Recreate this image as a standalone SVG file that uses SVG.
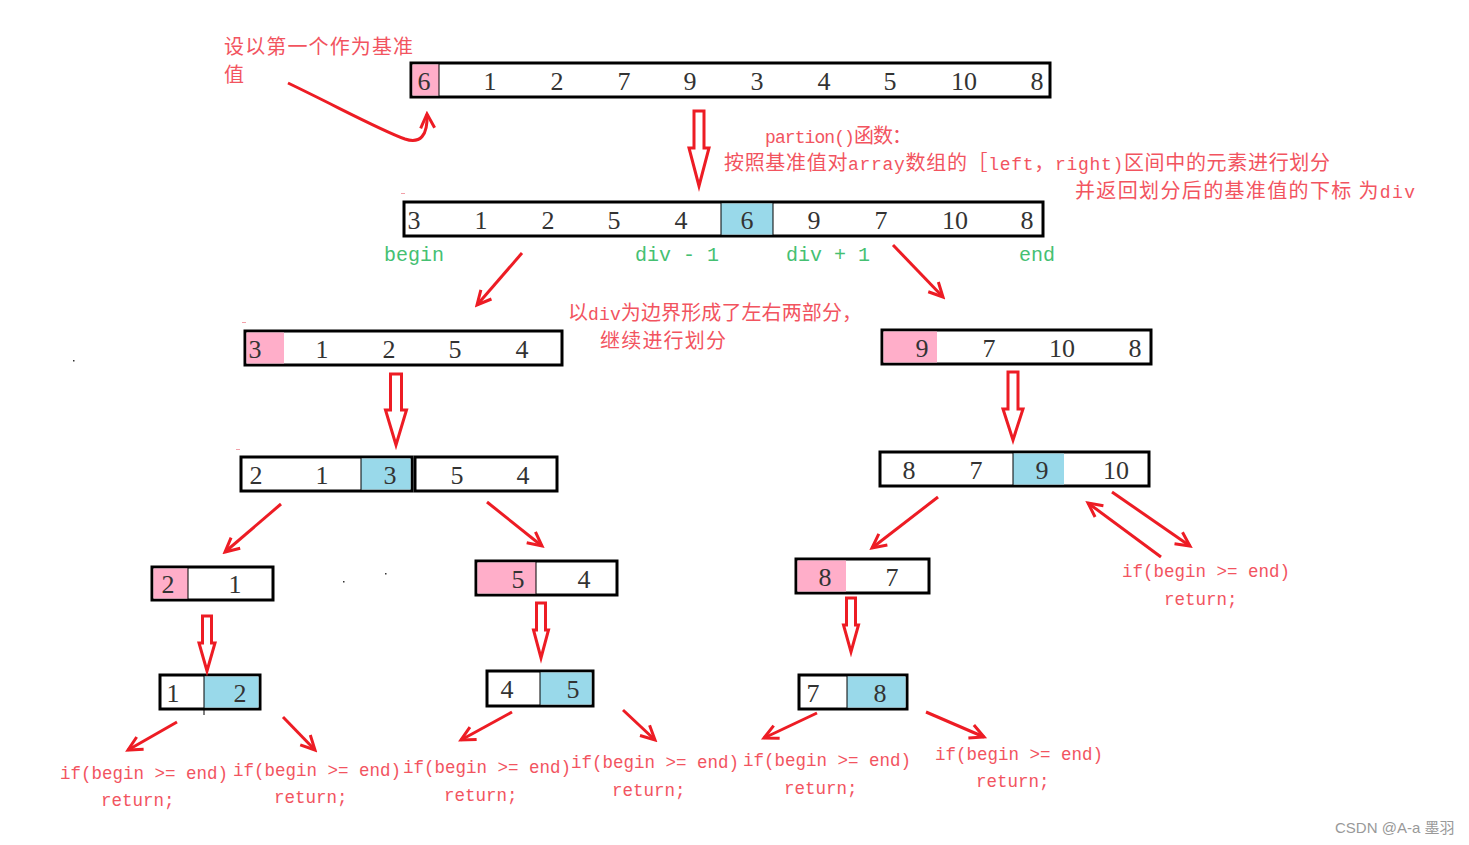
<svg xmlns="http://www.w3.org/2000/svg" width="1469" height="845" viewBox="0 0 1469 845">
<style>
.box{fill:#fff;stroke:#000;stroke-width:3}
.pink{fill:#ffaec9}
.blue{fill:#99d9ea}
.div{stroke:#000;stroke-width:1}
.num{font-family:"Liberation Serif","DejaVu Serif",serif;font-size:26px;fill:#333;text-anchor:middle}
.note{font-family:"Noto Sans CJK SC","Noto Sans",sans-serif;font-size:20px;fill:#f2545f}
.asc{font-family:"Liberation Mono",monospace;font-size:18px}
.code{font-family:"Liberation Mono","DejaVu Sans Mono",monospace;font-size:17.5px;fill:#f2545f}
.green{font-family:"Liberation Mono","DejaVu Sans Mono",monospace;font-size:20px;fill:#45c072}
.ln{fill:none;stroke:#ed1c24;stroke-width:3;marker-end:url(#ah)}
.hollow{fill:#fff;stroke:#ed1c24;stroke-width:3;stroke-linejoin:miter}
.wm{font-family:"Liberation Sans","Noto Sans CJK SC",sans-serif;font-size:15px;fill:#999}
</style>
<defs>
<marker id="ah" viewBox="0 0 20 20" refX="17" refY="10" markerWidth="20" markerHeight="20" markerUnits="userSpaceOnUse" orient="auto">
<path d="M3,3 L17,10 L3,17" fill="none" stroke="#ed1c24" stroke-width="3"/>
</marker>
</defs>
<rect width="1469" height="845" fill="#fff"/>

<!-- arrays -->
<g id="arr0">
<rect class="box" x="411" y="63" width="639" height="34"/>
<rect class="pink" x="412.5" y="64.5" width="26.5" height="31"/>
<line class="div" x1="439" y1="64" x2="439" y2="96"/>
<text class="num" y="90"><tspan x="424">6</tspan><tspan x="490">1</tspan><tspan x="557">2</tspan><tspan x="624">7</tspan><tspan x="690">9</tspan><tspan x="757">3</tspan><tspan x="824">4</tspan><tspan x="890">5</tspan><tspan x="964">10</tspan><tspan x="1037">8</tspan></text>
</g>
<g id="arr1">
<rect class="box" x="404" y="202" width="639" height="34"/>
<rect class="blue" x="721" y="203.5" width="52" height="31"/>
<line class="div" x1="721" y1="203" x2="721" y2="235"/>
<line class="div" x1="773" y1="203" x2="773" y2="235"/>
<text class="num" y="229"><tspan x="414">3</tspan><tspan x="481">1</tspan><tspan x="548">2</tspan><tspan x="614">5</tspan><tspan x="681">4</tspan><tspan x="747">6</tspan><tspan x="814">9</tspan><tspan x="881">7</tspan><tspan x="955">10</tspan><tspan x="1027">8</tspan></text>
</g>
<g id="arr2">
<rect class="box" x="245" y="331" width="317" height="34"/>
<rect class="pink" x="246.5" y="332.5" width="37.5" height="31"/>
<text class="num" y="358"><tspan x="255">3</tspan><tspan x="322">1</tspan><tspan x="389">2</tspan><tspan x="455">5</tspan><tspan x="522">4</tspan></text>
</g>
<g id="arr3">
<rect class="box" x="882" y="330" width="269" height="34"/>
<rect class="pink" x="883.5" y="331.5" width="53.5" height="31"/>
<text class="num" y="357"><tspan x="922">9</tspan><tspan x="989">7</tspan><tspan x="1062">10</tspan><tspan x="1135">8</tspan></text>
</g>
<g id="arr4">
<rect class="box" x="241" y="457" width="171" height="34"/>
<rect class="blue" x="361" y="458.5" width="49.5" height="31"/>
<line class="div" x1="361" y1="458" x2="361" y2="490"/>
<text class="num" y="484"><tspan x="256">2</tspan><tspan x="322">1</tspan><tspan x="390">3</tspan></text>
</g>
<g id="arr4b">
<rect class="box" x="415" y="457" width="142" height="34"/>
<text class="num" y="484"><tspan x="457">5</tspan><tspan x="523">4</tspan></text>
</g>
<g id="arr5">
<rect class="box" x="880" y="452" width="269" height="34"/>
<rect class="blue" x="1013" y="453.5" width="51" height="31"/>
<line class="div" x1="1013" y1="453" x2="1013" y2="485"/>
<text class="num" y="479"><tspan x="909">8</tspan><tspan x="976">7</tspan><tspan x="1042">9</tspan><tspan x="1116">10</tspan></text>
</g>
<g id="arr6">
<rect class="box" x="152" y="567" width="121" height="33"/>
<rect class="pink" x="153.5" y="568.5" width="34.5" height="30"/>
<line class="div" x1="188" y1="568" x2="188" y2="599"/>
<text class="num" y="593"><tspan x="168">2</tspan><tspan x="235">1</tspan></text>
</g>
<g id="arr7">
<rect class="box" x="476" y="561" width="141" height="34"/>
<rect class="pink" x="477.5" y="562.5" width="58.5" height="31"/>
<line class="div" x1="536" y1="562" x2="536" y2="594"/>
<text class="num" y="588"><tspan x="518">5</tspan><tspan x="584">4</tspan></text>
</g>
<g id="arr8">
<rect class="box" x="796" y="559" width="133" height="34"/>
<rect class="pink" x="797.5" y="560.5" width="48.5" height="31"/>
<text class="num" y="586"><tspan x="825">8</tspan><tspan x="892">7</tspan></text>
</g>
<g id="arr9">
<rect class="box" x="160" y="675" width="100" height="34"/>
<rect class="blue" x="204" y="676.5" width="54.5" height="31"/>
<line class="div" x1="204" y1="676" x2="204" y2="715"/>
<text class="num" y="702"><tspan x="173">1</tspan><tspan x="240">2</tspan></text>
</g>
<g id="arr10">
<rect class="box" x="487" y="671" width="106" height="35"/>
<rect class="blue" x="540" y="672.5" width="51.5" height="32"/>
<line class="div" x1="540" y1="672" x2="540" y2="705"/>
<text class="num" y="698"><tspan x="507">4</tspan><tspan x="573">5</tspan></text>
</g>
<g id="arr11">
<rect class="box" x="799" y="675" width="108" height="34"/>
<rect class="blue" x="847" y="676.5" width="58.5" height="31"/>
<line class="div" x1="847" y1="676" x2="847" y2="708"/>
<text class="num" y="702"><tspan x="813">7</tspan><tspan x="880">8</tspan></text>
</g>

<!-- notes -->
<g id="note-pivot">
<text class="note" x="224" y="54" textLength="189">设以第一个作为基准</text>
<text class="note" x="224" y="82">值</text>
</g>
<g id="note-partion">
<text class="note" x="765" y="143" textLength="147"><tspan class="asc">partion()</tspan>函数：</text>
<text class="note" x="724" y="170" textLength="606">按照基准值对<tspan class="asc">array</tspan>数组的［<tspan class="asc">left</tspan>，<tspan class="asc">right)</tspan>区间中的元素进行划分</text>
<text class="note" x="1075" y="198" textLength="340">并返回划分后的基准值的下标 为<tspan class="asc">div</tspan></text>
</g>
<g id="labels-green">
<text class="green" x="384" y="261">begin</text>
<text class="green" x="635" y="261">div - 1</text>
<text class="green" x="786" y="261">div + 1</text>
<text class="green" x="1019" y="261">end</text>
</g>
<g id="note-split">
<text class="note" x="568" y="320" textLength="294">以<tspan class="asc">div</tspan>为边界形成了左右两部分，</text>
<text class="note" x="600" y="348" textLength="126">继续进行划分</text>
</g>
<g id="returns">
<text class="code" x="60" y="779">if(begin >= end)</text>
<text class="code" x="101" y="806">return;</text>
<text class="code" x="233" y="776">if(begin >= end)</text>
<text class="code" x="274" y="803">return;</text>
<text class="code" x="403" y="773">if(begin >= end)</text>
<text class="code" x="444" y="801">return;</text>
<text class="code" x="571" y="768">if(begin >= end)</text>
<text class="code" x="612" y="796">return;</text>
<text class="code" x="743" y="766">if(begin >= end)</text>
<text class="code" x="784" y="794">return;</text>
<text class="code" x="935" y="760">if(begin >= end)</text>
<text class="code" x="976" y="787">return;</text>
<text class="code" x="1122" y="577">if(begin >= end)</text>
<text class="code" x="1164" y="605">return;</text>
</g>

<!-- connectors -->
<g id="connectors">
<path class="ln" d="M288,83 C340,108 380,130 405,139 C420,144 428,136 427,114"/>
<path class="hollow" d="M694,111 L704,111 L704,148 L709,148 L699,186 L689,148 L694,148 Z"/>
<path class="hollow" d="M390.5,374 L401.5,374 L401.5,410 L406.5,410 L396,445 L385.5,410 L390.5,410 Z"/>
<path class="hollow" d="M1008,372 L1018,372 L1018,409 L1023,409 L1013,440 L1003,409 L1008,409 Z"/>
<path class="hollow" d="M202.5,616 L211.5,616 L211.5,643 L215,643 L207,671 L199,643 L202.5,643 Z"/>
<path class="hollow" d="M536.5,603 L545.5,603 L545.5,630 L548.5,630 L541,658 L533.5,630 L536.5,630 Z"/>
<path class="hollow" d="M846.5,598 L855.5,598 L855.5,625 L858.5,625 L851,652 L843.5,625 L846.5,625 Z"/>
<line class="ln" x1="522" y1="253" x2="477" y2="305"/>
<line class="ln" x1="893" y1="245" x2="943" y2="297"/>
<line class="ln" x1="281" y1="504" x2="225" y2="552"/>
<line class="ln" x1="487" y1="502" x2="542" y2="546"/>
<line class="ln" x1="938" y1="497" x2="872" y2="548"/>
<line class="ln" x1="1161" y1="557" x2="1088" y2="503"/>
<line class="ln" x1="1112" y1="492" x2="1190" y2="546"/>
<line class="ln" x1="177" y1="722" x2="128" y2="750"/>
<line class="ln" x1="283" y1="717" x2="315" y2="750"/>
<line class="ln" x1="512" y1="712" x2="461" y2="740"/>
<line class="ln" x1="623" y1="710" x2="655" y2="740"/>
<line class="ln" x1="817" y1="713" x2="764" y2="738"/>
<line class="ln" x1="926" y1="712" x2="984" y2="737"/>
</g>

<!-- small marks -->
<g id="marks">
<rect x="401" y="193" width="4" height="1" fill="#f2a0a8"/>
<rect x="242" y="322" width="4" height="1" fill="#f2a0a8"/>
<rect x="236" y="449" width="4" height="1" fill="#f2a0a8"/>
<rect x="73" y="360" width="1.5" height="1.5" fill="#333"/>
<rect x="343" y="581" width="1.5" height="1.5" fill="#333"/>
<rect x="385" y="573" width="1.5" height="1.5" fill="#333"/>
</g>

<text id="watermark" class="wm" x="1335" y="833">CSDN @A-a 墨羽</text>
</svg>
